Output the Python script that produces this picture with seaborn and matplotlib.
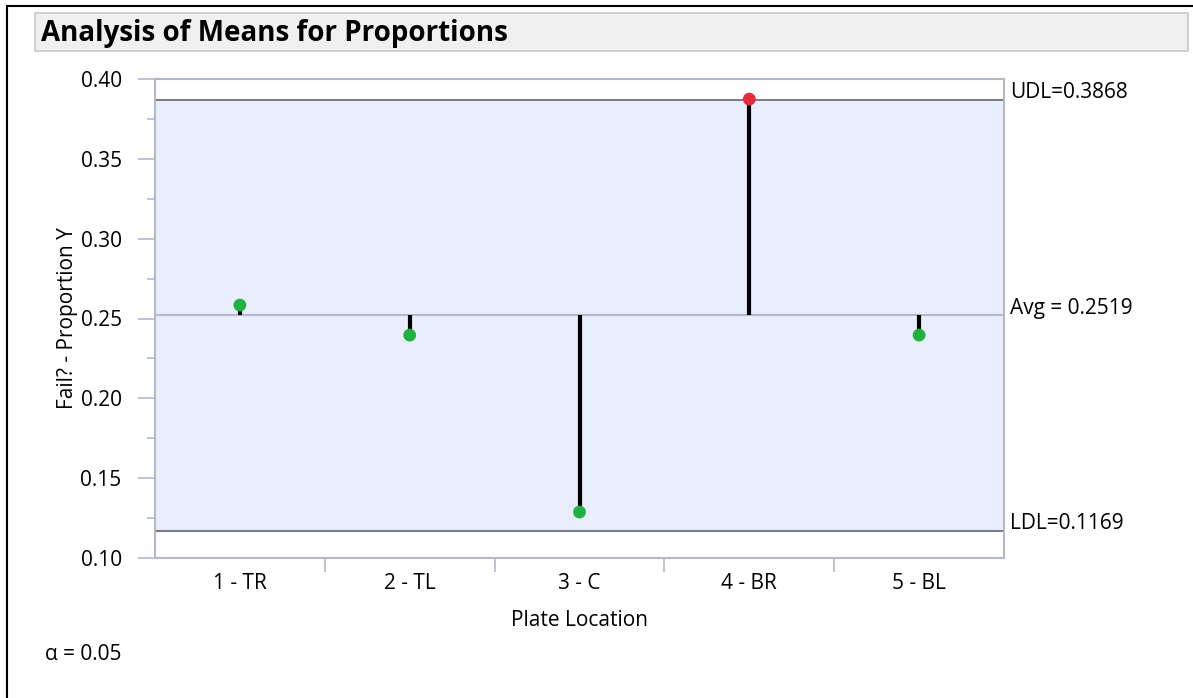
import matplotlib
matplotlib.use("Agg")
import matplotlib.pyplot as plt
import seaborn as sns
import pandas as pd
from matplotlib.patches import Rectangle
from matplotlib.ticker import MultipleLocator, FixedLocator, NullFormatter

# ---- data ----
categories = ["1 - TR", "2 - TL", "3 - C", "4 - BR", "5 - BL"]
proportions = [0.2584, 0.2396, 0.1288, 0.3874, 0.2396]
status = ["in", "in", "in", "out", "in"]
avg = 0.2519
udl = 0.3868
ldl = 0.1169
alpha_level = 0.05
yticks = [0.10, 0.15, 0.20, 0.25, 0.30, 0.35, 0.40]

sns.set_theme(style="white")
plt.rcParams["font.family"] = ["Open Sans", "DejaVu Sans"]
plt.rcParams["text.color"] = "black"
plt.rcParams["axes.labelcolor"] = "black"

FS = 15

df = pd.DataFrame({"loc": categories, "p": proportions, "status": status})
df["x"] = range(len(categories))

W, H = 1193, 698
fig = plt.figure(figsize=(W / 100, H / 100), dpi=100)

# outer frame (top and left black lines)
fig.add_artist(Rectangle((7 / W, -0.1), 1.2, 1 - 6 / H + 0.1, transform=fig.transFigure,
                         fill=False, edgecolor="black", linewidth=1.5))
# title box
fig.add_artist(Rectangle((35 / W, 1 - 51 / H), 1153 / W, 38 / H, transform=fig.transFigure,
                         facecolor="#f0f0f0", edgecolor="#c8c8c8", linewidth=1.2))
fig.text(41 / W, 1 - 33 / H, "Analysis of Means for Proportions", fontsize=20,
         fontweight="bold", ha="left", va="center", color="black")

ax = fig.add_axes([155 / W, 1 - 558 / H, 849 / W, 479 / H])
ax.set_xlim(-0.5, len(categories) - 0.5)
ax.set_ylim(0.10, 0.40)

# decision band
ax.axhspan(ldl, udl, facecolor="#e8eefc", zorder=0)
ax.axhline(udl, color="#7c7c84", linewidth=1.5, zorder=1)
ax.axhline(ldl, color="#7c7c84", linewidth=1.5, zorder=1)
ax.axhline(avg, color="#b4b8cc", linewidth=1.5, zorder=1)

# needles
ax.vlines(df["x"], avg, df["p"], color="black", linewidth=3, zorder=2)

sns.scatterplot(data=df, x="x", y="p", hue="status",
                palette={"in": "#21b141", "out": "#e8283c"},
                s=85, edgecolor="none", legend=False, zorder=3, ax=ax)

# axes styling
for sp in ax.spines.values():
    sp.set_color("#b4b8c8")
    sp.set_linewidth(1.5)
ax.set_yticks(yticks)
ax.set_yticklabels([f"{v:.2f}" for v in yticks])
ax.yaxis.set_minor_locator(MultipleLocator(0.025))
ax.tick_params(axis="y", which="major", length=12, width=1.2, color="#b4b8c8",
               labelcolor="black", labelsize=FS, pad=12, left=True)
ax.tick_params(axis="y", which="minor", length=6, width=1.2, color="#b4b8c8", left=True)

ax.set_xticks(df["x"])
ax.set_xticklabels(categories)
ax.xaxis.set_minor_locator(FixedLocator([0.5, 1.5, 2.5, 3.5]))
ax.xaxis.set_minor_formatter(NullFormatter())
ax.tick_params(axis="x", which="major", length=0, labelsize=FS, pad=11, bottom=True,
               labelcolor="black")
ax.tick_params(axis="x", which="minor", length=10, width=1.2, color="#b4b8c8",
               direction="out", bottom=True)

ax.set_xlabel("Plate Location", fontsize=FS, labelpad=11)
ax.set_ylabel("Fail? - Proportion Y", fontsize=FS, labelpad=2)

# limit labels on the right
tr = ax.get_yaxis_transform()
off = 0.0012
ax.text(1.007, udl + off, f"UDL={udl:.4f}", transform=tr, fontsize=FS,
        ha="left", va="baseline", clip_on=False)
ax.text(1.007, avg + off, f"Avg = {avg:.4f}", transform=tr, fontsize=FS,
        ha="left", va="baseline", clip_on=False)
ax.text(1.007, ldl + off, f"LDL={ldl:.4f}", transform=tr, fontsize=FS,
        ha="left", va="baseline", clip_on=False)

fig.text(45 / W, 1 - 655 / H, f"\u03b1 = {alpha_level}", fontsize=FS, ha="left", va="center")

fig.savefig("out.png", dpi=100)
